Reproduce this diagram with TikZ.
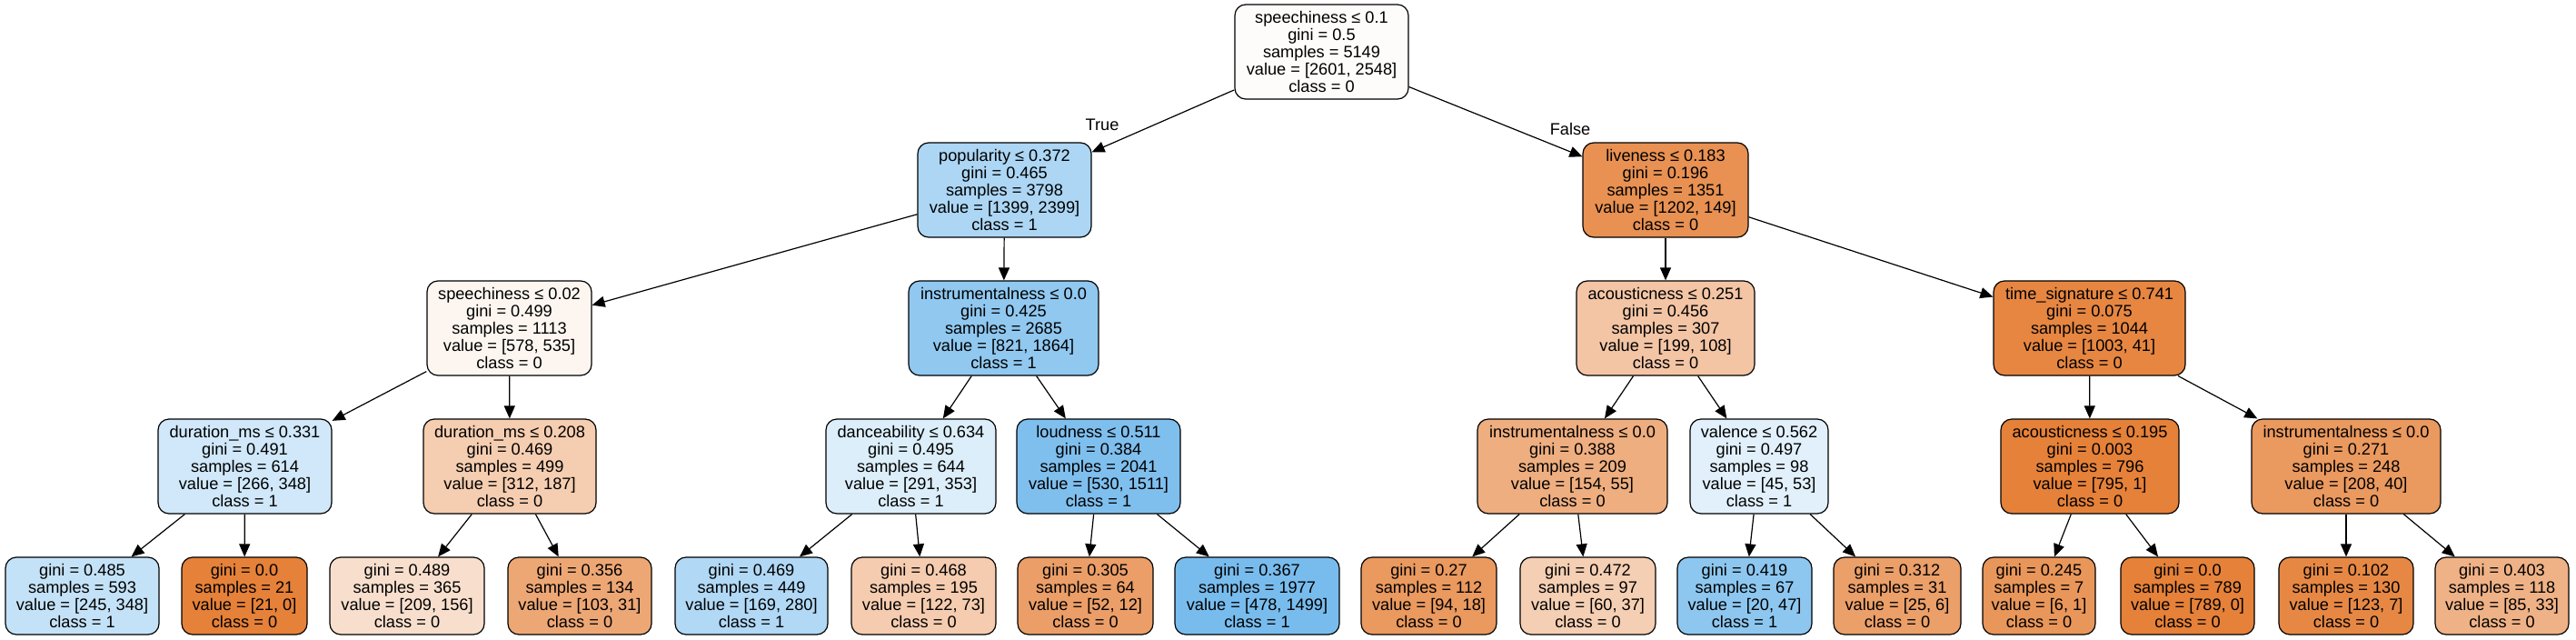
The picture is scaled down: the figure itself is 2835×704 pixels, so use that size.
\documentclass[tikz,border=0pt]{standalone}
\usepackage{fontspec}
\setmainfont{Liberation Sans}
\usetikzlibrary{arrows.meta}
\definecolor{cz}{RGB}{229,129,57}
\definecolor{co}{RGB}{57,157,229}
\begin{document}
\begin{tikzpicture}[x=1pt,y=-1pt,
  tn/.style={draw=black, line width=1.2pt, rounded corners=12pt, inner sep=0pt, align=center, font=\fontsize{18.2}{18.8}\selectfont, minimum height=104pt},
  lf/.style={tn, minimum height=85pt},
  ed/.style={line width=1.2pt, -{Triangle[length=14pt,width=12pt]}},
  lb/.style={font=\fontsize{18.2}{18.8}\selectfont, inner sep=0pt}]
\useasboundingbox (0,0) rectangle (2835,704);
\fill[white] (0,0) rectangle (2835,704);
% row 0
\node[tn, fill=cz!2.04, minimum width=191pt] (n0) at (1454.5,57) {speechiness ≤ 0.1\\gini = 0.5\\samples = 5149\\value = [2601, 2548]\\class = 0};
% row 1
\node[tn, fill=co!41.7, minimum width=191pt] (n1) at (1105.5,209) {popularity ≤ 0.372\\gini = 0.465\\samples = 3798\\value = [1399, 2399]\\class = 1};
\node[tn, fill=cz!87.6, minimum width=182pt] (n2) at (1833,209) {liveness ≤ 0.183\\gini = 0.196\\samples = 1351\\value = [1202, 149]\\class = 0};
% row 2
\node[tn, fill=cz!7.44, minimum width=181pt] (n3) at (560.5,361) {speechiness ≤ 0.02\\gini = 0.499\\samples = 1113\\value = [578, 535]\\class = 0};
\node[tn, fill=co!55.96, minimum width=209pt] (n4) at (1104.5,361) {instrumentalness ≤ 0.0\\gini = 0.425\\samples = 2685\\value = [821, 1864]\\class = 1};
\node[tn, fill=cz!45.7, minimum width=196pt] (n5) at (1833,361) {acousticness ≤ 0.251\\gini = 0.456\\samples = 307\\value = [199, 108]\\class = 0};
\node[tn, fill=cz!95.9, minimum width=211pt] (n6) at (2299.5,361) {time\_signature ≤ 0.741\\gini = 0.075\\samples = 1044\\value = [1003, 41]\\class = 0};
% row 3
\node[tn, fill=co!23.56, minimum width=191pt] (n7) at (269.5,513) {duration\_ms ≤ 0.331\\gini = 0.491\\samples = 614\\value = [266, 348]\\class = 1};
\node[tn, fill=cz!40.06, minimum width=190pt] (n8) at (561,513) {duration\_ms ≤ 0.208\\gini = 0.469\\samples = 499\\value = [312, 187]\\class = 0};
\node[tn, fill=co!17.56, minimum width=187pt] (n9) at (1002.5,513) {danceability ≤ 0.634\\gini = 0.495\\samples = 644\\value = [291, 353]\\class = 1};
\node[tn, fill=co!64.9, minimum width=180pt] (n10) at (1209,513) {loudness ≤ 0.511\\gini = 0.384\\samples = 2041\\value = [530, 1511]\\class = 1};
\node[tn, fill=cz!64.3, minimum width=209pt] (n11) at (1730.5,513) {instrumentalness ≤ 0.0\\gini = 0.388\\samples = 209\\value = [154, 55]\\class = 0};
\node[tn, fill=co!15.1, minimum width=152pt] (n12) at (1936,513) {valence ≤ 0.562\\gini = 0.497\\samples = 98\\value = [45, 53]\\class = 1};
\node[tn, fill=cz!99.87, minimum width=196pt] (n13) at (2300,513) {acousticness ≤ 0.195\\gini = 0.003\\samples = 796\\value = [795, 1]\\class = 0};
\node[tn, fill=cz!80.77, minimum width=208pt] (n14) at (2582,513) {instrumentalness ≤ 0.0\\gini = 0.271\\samples = 248\\value = [208, 40]\\class = 0};
% leaves
\node[lf, fill=co!29.6, minimum width=169pt] (l1) at (90.5,655.5) {gini = 0.485\\samples = 593\\value = [245, 348]\\class = 1};
\node[lf, fill=cz, minimum width=138pt] (l2) at (269,655.5) {gini = 0.0\\samples = 21\\value = [21, 0]\\class = 0};
\node[lf, fill=cz!25.36, minimum width=170pt] (l3) at (448,655.5) {gini = 0.489\\samples = 365\\value = [209, 156]\\class = 0};
\node[lf, fill=cz!69.9, minimum width=158pt] (l4) at (638,655.5) {gini = 0.356\\samples = 134\\value = [103, 31]\\class = 0};
\node[lf, fill=co!39.6, minimum width=168pt] (l5) at (827,655.5) {gini = 0.469\\samples = 449\\value = [169, 280]\\class = 1};
\node[lf, fill=cz!40.16, minimum width=159pt] (l6) at (1016.5,655.5) {gini = 0.468\\samples = 195\\value = [122, 73]\\class = 0};
\node[lf, fill=cz!76.9, minimum width=149pt] (l7) at (1194.5,655.5) {gini = 0.305\\samples = 64\\value = [52, 12]\\class = 0};
\node[lf, fill=co!68.1, minimum width=181pt] (l8) at (1383.5,655.5) {gini = 0.367\\samples = 1977\\value = [478, 1499]\\class = 1};
\node[lf, fill=cz!80.85, minimum width=149pt] (l9) at (1572.5,655.5) {gini = 0.27\\samples = 112\\value = [94, 18]\\class = 0};
\node[lf, fill=cz!38.3, minimum width=149pt] (l10) at (1747.5,655.5) {gini = 0.472\\samples = 97\\value = [60, 37]\\class = 0};
\node[lf, fill=co!57.4, minimum width=148pt] (l11) at (1920,655.5) {gini = 0.419\\samples = 67\\value = [20, 47]\\class = 1};
\node[lf, fill=cz!76, minimum width=140pt] (l12) at (2088,655.5) {gini = 0.312\\samples = 31\\value = [25, 6]\\class = 0};
\node[lf, fill=cz!83.3, minimum width=124pt] (l13) at (2244,655.5) {gini = 0.245\\samples = 7\\value = [6, 1]\\class = 0};
\node[lf, fill=cz, minimum width=147pt] (l14) at (2407.5,655.5) {gini = 0.0\\samples = 789\\value = [789, 0]\\class = 0};
\node[lf, fill=cz!94.3, minimum width=148pt] (l15) at (2582,655.5) {gini = 0.102\\samples = 130\\value = [123, 7]\\class = 0};
\node[lf, fill=cz!61.2, minimum width=147pt] (l16) at (2753.5,655.5) {gini = 0.403\\samples = 118\\value = [85, 33]\\class = 0};
% edges
\draw[ed] (n0) -- (n1);
\draw[ed] (n0) -- (n2);
\draw[ed] (n1) -- (n3);
\draw[ed] (n1) -- (n4);
\draw[ed] (n2) -- (n5);
\draw[ed] (n2) -- (n6);
\draw[ed] (n3) -- (n7);
\draw[ed] (n3) -- (n8);
\draw[ed] (n4) -- (n9);
\draw[ed] (n4) -- (n10);
\draw[ed] (n5) -- (n11);
\draw[ed] (n5) -- (n12);
\draw[ed] (n6) -- (n13);
\draw[ed] (n6) -- (n14);
\draw[ed] (n7) -- (l1);
\draw[ed] (n7) -- (l2);
\draw[ed] (n8) -- (l3);
\draw[ed] (n8) -- (l4);
\draw[ed] (n9) -- (l5);
\draw[ed] (n9) -- (l6);
\draw[ed] (n10) -- (l7);
\draw[ed] (n10) -- (l8);
\draw[ed] (n11) -- (l9);
\draw[ed] (n11) -- (l10);
\draw[ed] (n12) -- (l11);
\draw[ed] (n12) -- (l12);
\draw[ed] (n13) -- (l13);
\draw[ed] (n13) -- (l14);
\draw[ed] (n14) -- (l15);
\draw[ed] (n14) -- (l16);
% edge labels
\node[lb] (lt) at (1213,137) {True};
\node[lb] (lff) at (1728,142) {False};
\end{tikzpicture}
\end{document}
